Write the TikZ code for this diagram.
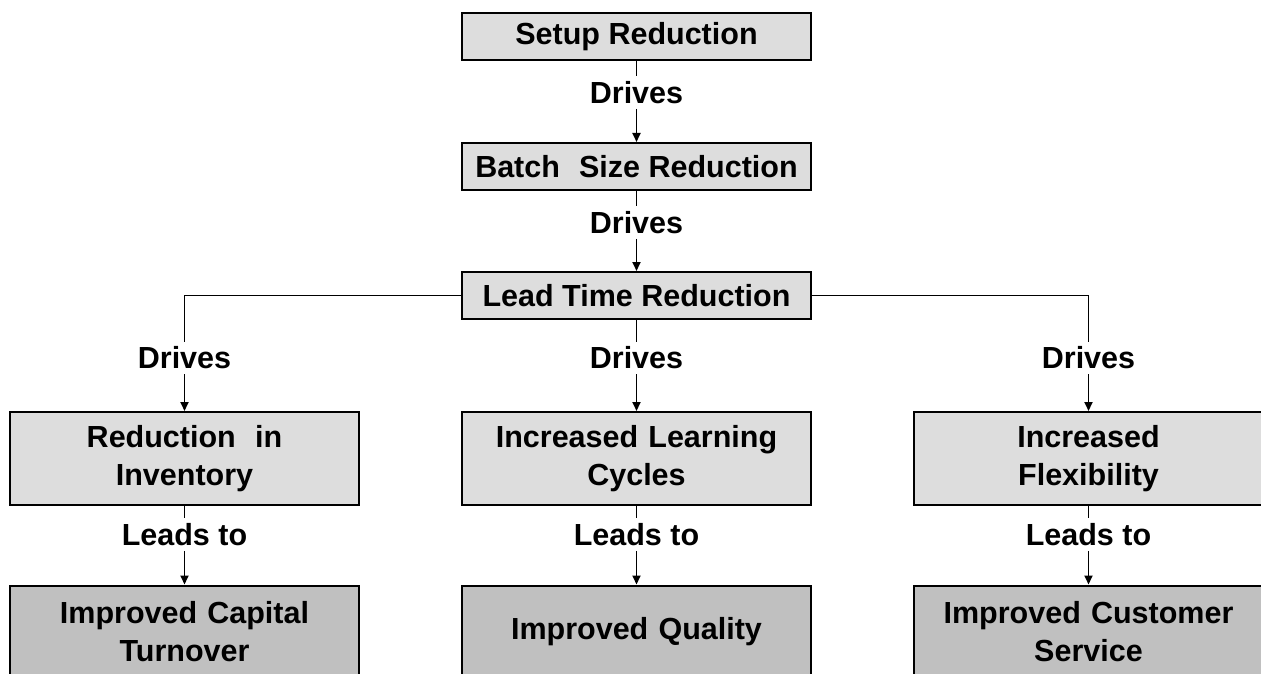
\documentclass[tikz,border=0pt]{standalone}
\usepackage{fontspec}
\setmainfont{Liberation Sans}
\usetikzlibrary{arrows.meta}
\definecolor{boxlight}{HTML}{DDDDDD}
\definecolor{boxdark}{HTML}{C0C0C0}
\tikzset{
  every node/.style={font=\fontsize{30.5}{38}\selectfont\bfseries},
  stagebox/.style={draw=black, line width=2pt, fill=boxlight, minimum width=349pt,
    minimum height=47pt, inner sep=0pt, align=center},
  effectbox/.style={stagebox, minimum height=93pt, text width=345pt},
  resultbox/.style={effectbox, fill=boxdark},
  linklabel/.style={inner sep=5pt, fill=white},
  link/.style={line width=1.9pt},
  arrowlink/.style={link, -{Triangle[length=9pt,width=8pt]}}
}
\begin{document}
\begin{tikzpicture}[x=1pt, y=-1pt]
  \useasboundingbox (0,0) rectangle (1261,674);
  \clip (0,0) rectangle (1261,674);
  \fill[white] (0,0) rectangle (1261,674);

  % central chain
  \node[stagebox] (setup) at (636.5,36.5) {Setup Reduction};
  \node[stagebox] (batch) at (636.5,166.5) {Batch\hspace{0.35em} Size Reduction};
  \node[stagebox] (lead)  at (636.5,295.5) {Lead Time Reduction};

  % effects of shorter lead time
  \node[effectbox] (inv)   at (184.5,458.5) {Reduction\hspace{0.3em} in\\Inventory};
  \node[effectbox] (learn) at (636.5,458.5) {Increased Learning\\Cycles};
  \node[effectbox] (flex)  at (1088.5,458.5) {Increased\\Flexibility};

  % resulting benefits
  \node[resultbox] (capital) at (184.5,632) {Improved Capital\\Turnover};
  \node[resultbox] (quality) at (636.5,632) {Improved Quality};
  \node[resultbox] (service) at (1088.5,632) {Improved Customer\\Service};

  % connector labels
  \node[linklabel] (d1) at (636.5,92.5) {Drives};
  \node[linklabel] (d2) at (636.5,222.5) {Drives};
  \node[linklabel] (dl) at (184.5,358) {Drives};
  \node[linklabel] (dc) at (636.5,358) {Drives};
  \node[linklabel] (dr) at (1088.5,358) {Drives};
  \node[linklabel] (ll) at (184.5,534.5) {Leads to};
  \node[linklabel] (lc) at (636.5,534.5) {Leads to};
  \node[linklabel] (lr) at (1088.5,534.5) {Leads to};

  % connectors
  \draw[link] (setup) -- (d1);
  \draw[arrowlink] (d1) -- (batch);
  \draw[link] (batch) -- (d2);
  \draw[arrowlink] (d2) -- (lead);

  \draw[link] (lead.west) -| (dl);
  \draw[arrowlink] (dl) -- (inv);
  \draw[link] (lead) -- (dc);
  \draw[arrowlink] (dc) -- (learn);
  \draw[link] (lead.east) -| (dr);
  \draw[arrowlink] (dr) -- (flex);

  \draw[link] (inv) -- (ll);
  \draw[arrowlink] (ll) -- (capital);
  \draw[link] (learn) -- (lc);
  \draw[arrowlink] (lc) -- (quality);
  \draw[link] (flex) -- (lr);
  \draw[arrowlink] (lr) -- (service);
\end{tikzpicture}
\end{document}
